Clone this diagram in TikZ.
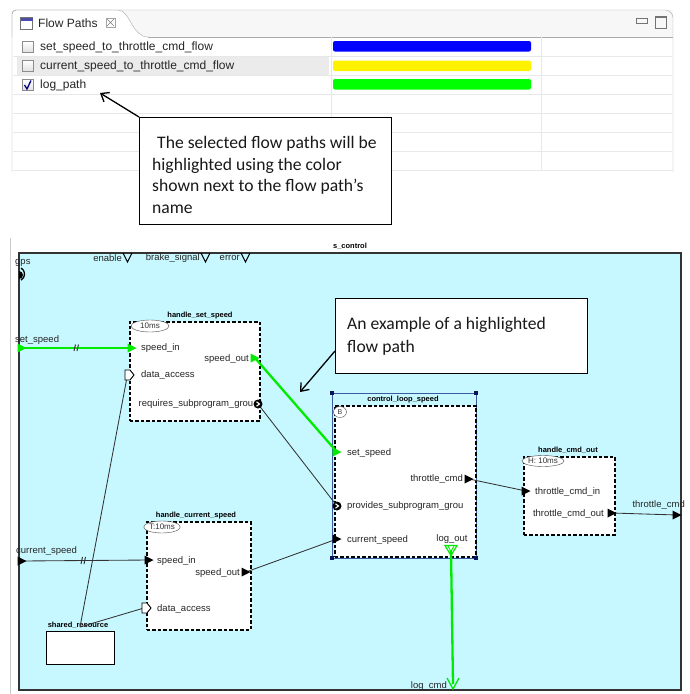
\documentclass[tikz,border=0pt]{standalone}
\usepackage{fontspec}
\setmainfont{Liberation Sans}
\newfontfamily\calib{Carlito}
\usetikzlibrary{arrows.meta,shapes.geometric}
\definecolor{hl}{RGB}{0,235,0}
\definecolor{cyanbg}{RGB}{200,248,255}
\definecolor{selblue}{RGB}{60,90,160}
\definecolor{navy}{RGB}{10,20,90}
\definecolor{rowline}{RGB}{232,232,232}
\definecolor{frameg}{RGB}{170,170,170}
\begin{document}
\begin{tikzpicture}[x=1pt,y=-1pt,
  lbl/.style={inner sep=0pt, font=\fontsize{9.5}{11}\selectfont, text=black!85},
  ttl/.style={inner sep=0pt, font=\bfseries\fontsize{7.5}{9}\selectfont},
  ui/.style={inner sep=0pt, font=\fontsize{12}{14}\selectfont, text=black!85},
  callbox/.style={draw=black, line width=0.9pt, fill=white, inner sep=0pt},
  calltxt/.style={inner sep=0pt, font=\calib\fontsize{17.6}{21.7}\selectfont, align=left, text=black!90},
  arr/.style={line width=1.3pt, -{Straight Barb[length=7pt,width=11pt]}},
  dbox/.style={draw, line width=1.5pt, dash pattern=on 3.5pt off 2pt, fill=white, inner sep=0pt},
  flow/.style={draw=hl, line width=2.3pt},
  conn/.style={draw=black!80, line width=0.85pt},
  tmell/.style={ellipse, draw=black!70, fill=white, inner sep=0pt, font=\fontsize{8}{9}\selectfont, text=black!80},
  pics/tri/.style={code={\fill[#1] (-4.5,-4.5) -- (4.5,0) -- (-4.5,4.5) -- cycle;}},
  pics/tri/.default=black,
  pics/dacc/.style={code={\draw[fill=white, line width=0.9pt] (-4,-5) -- (1,-5) -- (5,0) -- (1,5) -- (-4,5) -- cycle;}},
  pics/subp/.style={code={\fill (0,0) circle (4.5pt); \draw[white, line width=1.1pt] (-1.5,-2.2) -- (1.5,0) -- (-1.5,2.2);}},
  pics/vport/.style={code={\draw[line width=1pt] (-4.5,0) -- (0,9) -- (4.5,0);}},
  pics/cksq/.style={code={\draw[draw=black!45, top color=white, bottom color=black!12] (-5.5,-5.5) rectangle (5.5,5.5);}}
]
\useasboundingbox (0,0) rectangle (689,694);
\fill[white] (0,0) rectangle (689,694);

% ================= Flow Paths view =================
\fill[black!3] (12,10) rectangle (673,37);
\fill[white] (12,37) rectangle (673,172);
\draw[frameg, fill=white] (12,37) -- (12,14) arc[start angle=180, end angle=90, radius=4pt] -- (118,10) .. controls (130,10) and (132,37) .. (148,37);
\draw[frameg] (148,37) -- (673,37);
\draw[frameg] (12,172) -- (12,14) arc[start angle=180, end angle=90, radius=4pt] -- (665,10) arc[start angle=90, end angle=0, radius=8pt] -- (673,172);
\foreach \yy in {56,75,94,113,132,151,170} \draw[rowline] (13,\yy) -- (672,\yy);
\draw[rowline] (331,37) -- (331,171);
\draw[rowline] (541,37) -- (541,171);
\fill[black!8] (17,57) rectangle (329,74.5);
\draw[black!55, fill=white] (20.5,17.5) rectangle (32.5,29);
\fill[blue!55!black!70] (20.5,17.5) rectangle (32.5,20.5);
\node[ui, anchor=west] (tabtitle) at (38,23) {Flow Paths};
\draw[black!50, line width=0.6pt] (107,19) -- (114,26) (114,19) -- (107,26);
\draw[black!35, line width=0.5pt] (106,18) rectangle (115,27);
\draw[black!55] (636,18.5) rectangle (647,23);
\draw[black!55] (655,16.5) rectangle (666,28);
\draw[black!55, line width=1.2pt] (655,17.5) -- (666,17.5);
\pic at (27.5,47) {cksq};
\pic at (27.5,66) {cksq};
\pic at (27.5,85) {cksq};
\draw[blue!50!black, line width=1.3pt] (24.5,85) -- (27,89) -- (31,80.5);
\node[ui, anchor=west] (r1) at (40,47) {set\_speed\_to\_throttle\_cmd\_flow};
\node[ui, anchor=west] (r2) at (40,66) {current\_speed\_to\_throttle\_cmd\_flow};
\node[ui, anchor=west] (r3) at (40,85) {log\_path};
\fill[blue, rounded corners=2pt] (333,41) rectangle (531,51.5);
\fill[yellow, rounded corners=2pt] (333,60.5) rectangle (531,71);
\fill[green, rounded corners=2pt] (333,79) rectangle (531,89.5);

% callout 1
\node[callbox, minimum width=252pt, minimum height=107pt, anchor=north west] (c1) at (139,117) {};
\node[calltxt, anchor=base west] (c1t) at (152,213.5) {\hspace{5pt}The selected flow paths will be\\highlighted using the color\\shown next to the flow path’s\\name};
\coordinate (lp) at (100,93);
\draw[arr] (c1.north west) -- (lp);

% ================= s_control diagram =================
\draw[black!20] (10,238) -- (10,694);
\node[ttl] (sct) at (350,246) {s\_control};
\draw[black!80, line width=1.2pt, fill=cyanbg] (19,253) rectangle (681,690);

\node[lbl, anchor=west] (gpsl) at (15,263) {gps};
\fill (19,271) arc[start angle=90, end angle=-90, radius=4pt] -- cycle;
\draw[line width=1.3pt] (21,268) arc[start angle=60, end angle=-60, radius=7pt];
\node[lbl, anchor=east] (enl) at (122,258) {enable};
\pic at (127.5,253) {vport};
\node[lbl, anchor=east] (brl) at (200,258) {brake\_signal};
\pic at (205.5,253) {vport};
\node[lbl, anchor=east] (erl) at (240,258) {error};
\pic at (245.5,253) {vport};

\node[lbl, anchor=west] (ssl) at (15,340) {set\_speed};
\coordinate (ssp) at (22,348);
\node[lbl, anchor=west] (csl) at (16,551) {current\_speed};
\coordinate (csp) at (22,561);
\node[lbl, anchor=east] (tcl) at (685,505) {throttle\_cmd};
\coordinate (tcp) at (677,515);
\node[lbl, anchor=east] (lcl) at (447,686) {log\_cmd};
\coordinate (lcp) at (453,684);

% handle_set_speed
\node[ttl] (hsst) at (200,316) {handle\_set\_speed};
\node[dbox, minimum width=130pt, minimum height=99pt, anchor=north west] (hss) at (129,321) {};
\node[tmell, minimum width=38pt, minimum height=12pt] (hsse) at (150,326) {10ms};
\coordinate (hssin) at (132,348);
\coordinate (hssda) at (129,375);
\coordinate (hssout) at (255,358);
\coordinate (hssreq) at (258,404);
\node[lbl, anchor=west] at (141,348.5) {speed\_in};
\node[lbl, anchor=west] at (141,375) {data\_access};
\node[lbl, anchor=east] at (249,359) {speed\_out};
\node[lbl, anchor=east] at (253.5,404) {requires\_subprogram\_grou};

% handle_current_speed
\node[ttl] (hcst) at (196,516) {handle\_current\_speed};
\node[dbox, minimum width=104pt, minimum height=108pt, anchor=north west] (hcs) at (146,521) {};
\node[tmell, minimum width=36pt, minimum height=12pt] (hcse) at (162,527) {T:10ms};
\coordinate (hcsin) at (149,560);
\coordinate (hcsout) at (246,572);
\coordinate (hcsda) at (146,608);
\node[lbl, anchor=west] at (157,561) {speed\_in};
\node[lbl, anchor=east] at (240,573) {speed\_out};
\node[lbl, anchor=west] at (157,608.5) {data\_access};

% shared_resource
\node[ttl] (srt) at (78,625) {shared\_resource};
\node[draw, line width=1.2pt, fill=white, minimum width=68pt, minimum height=33pt, anchor=north west, inner sep=0pt] (sr) at (46,631) {};
\coordinate (srp) at (80,627);

% control_loop_speed
\draw[selblue, line width=1pt] (332,393) rectangle (476,558);
\node[ttl] (clst) at (403,400) {control\_loop\_speed};
\node[dbox, minimum width=141pt, minimum height=151pt, anchor=north west] (cls) at (334,405) {};
\foreach \cx/\cy in {332/393, 476/393, 332/558, 476/558} \fill[navy] (\cx-2.2,\cy-2.2) rectangle (\cx+2.2,\cy+2.2);
\node[tmell, minimum width=13pt, minimum height=11pt, font=\fontsize{7}{8}\selectfont] (clse) at (340,412) {B};
\coordinate (clsset) at (337,452);
\coordinate (clsthr) at (469,479);
\coordinate (clsprov) at (337,506);
\coordinate (clscur) at (337,539);
\coordinate (clslog) at (451,550);
\node[lbl, anchor=west] at (347,453) {set\_speed};
\node[lbl, anchor=east] at (463,479) {throttle\_cmd};
\node[lbl, anchor=west] at (347,506) {provides\_subprogram\_grou};
\node[lbl, anchor=west] at (347,540) {current\_speed};
\node[lbl] at (452,539) {log\_out};

% handle_cmd_out
\node[ttl] (hcot) at (568,450) {handle\_cmd\_out};
\node[dbox, minimum width=91pt, minimum height=78pt, anchor=north west] (hco) at (523,456) {};
\node[tmell, minimum width=40pt, minimum height=11pt] (hcoe) at (543,461) {H: 10ms};
\coordinate (hcoin) at (526,491);
\coordinate (hcoout) at (612,513);
\node[lbl, anchor=west] at (535,491.5) {throttle\_cmd\_in};
\node[lbl, anchor=east] at (604,514) {throttle\_cmd\_out};

% ---------- connectors ----------
\draw[conn] (srp) -- ([xshift=-1pt,yshift=3pt]hssda);
\draw[conn] (srp) -- ([xshift=-2pt,yshift=0pt]hcsda);
\draw[conn] (hssreq) -- (clsprov);
\draw[conn] (hcsout) -- (clscur);
\draw[conn] (clsthr) -- (hcoin);
\draw[conn] (hcoout) -- (tcp);
\draw[conn] (csp) -- (hcsin);
\draw[black!80, line width=1pt] (81,564) -- (82.5,557) (84,564) -- (85.5,557);

\draw[flow] (ssp) -- (hssin);
\draw[flow] (hssout) -- (clsset);
\draw[flow] (clslog) -- (lcp);
\draw[black!80, line width=1pt] (74,351) -- (75.5,344.5) (77,351) -- (78.5,344.5);

% ---------- ports on top ----------
\pic at (ssp) {tri=hl};
\pic at (hssin) {tri=hl};
\pic at (hssout) {tri=hl};
\pic at (clsset) {tri=hl};
\pic at (hssda) {dacc};
\pic at (hssreq) {subp};
\pic at (csp) {tri};
\pic at (hcsin) {tri};
\pic at (hcsout) {tri};
\pic at (hcsda) {dacc};
\pic at (clsthr) {tri};
\pic at (clsprov) {subp};
\pic at (clscur) {tri};
\pic at (hcoin) {tri};
\pic at (hcoout) {tri};
\pic at (tcp) {tri};
\draw[hl, line width=1.2pt] (445,545.5) -- (451,555.5) -- (457,545.5) -- cycle;
\draw[hl, line width=0.9pt] (448,546) -- (451,551.5) -- (454,546);
\draw[hl, line width=1.3pt] (447,678) -- (453,689) -- (459,678);

% callout 2
\node[callbox, minimum width=252pt, minimum height=75pt, anchor=north west] (c2) at (335,298) {};
\node[calltxt, anchor=base west, font=\calib\fontsize{17.6}{23}\selectfont] (c2t) at (347,352.5) {An example of a highlighted\\flow path};
\coordinate (c2a) at (335,351);
\coordinate (c2tip) at (300,392);
\draw[arr] (c2a) -- (c2tip);
\end{tikzpicture}
\end{document}
